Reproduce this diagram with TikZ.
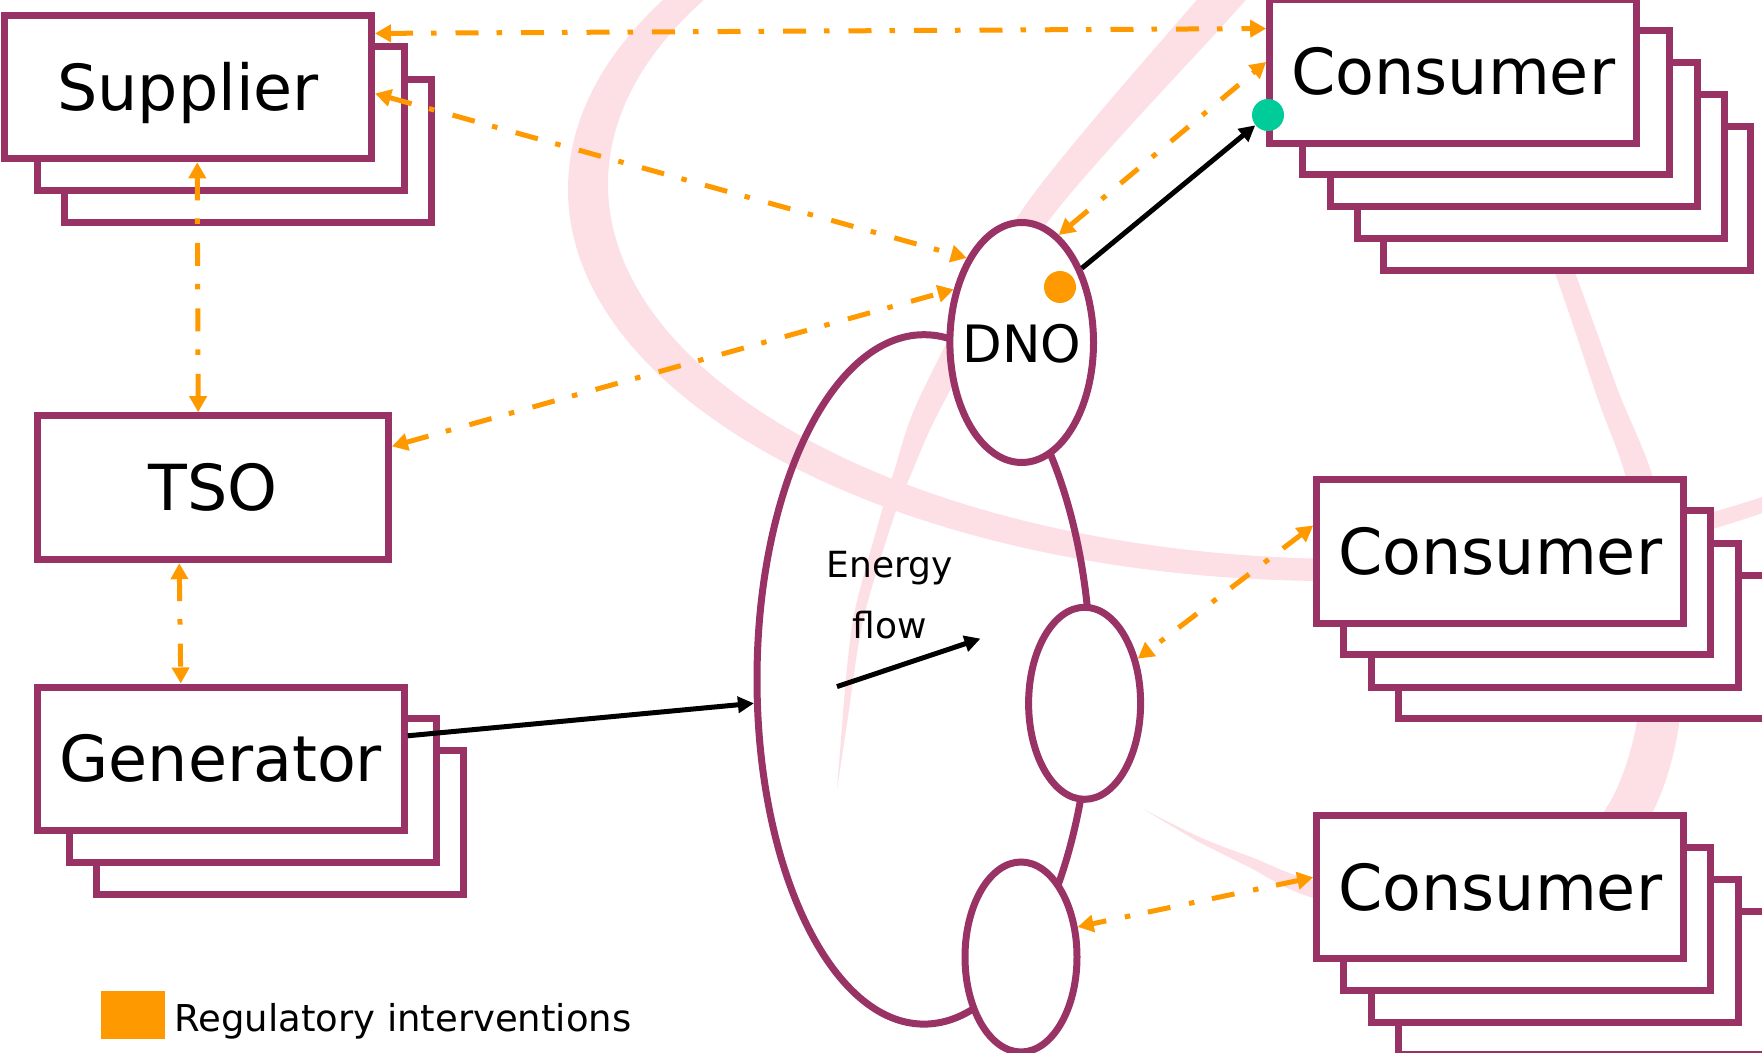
\documentclass[tikz,border=0pt]{standalone}
\usepackage{fontspec}
\setmainfont{DejaVu Sans}
\usetikzlibrary{arrows.meta,shapes.geometric}
\definecolor{purp}{RGB}{153,51,102}
\definecolor{orng}{RGB}{255,153,0}
\definecolor{grn}{RGB}{0,204,153}
\definecolor{bandpink}{RGB}{253,224,229}
\newcommand\boxfont{\fontsize{31.75pt}{38pt}\selectfont}
\newcommand\dnofont{\fontsize{25.75pt}{31pt}\selectfont}
\newcommand\flowfont{\fontsize{18pt}{22pt}\selectfont}
\newcommand\legfont{\fontsize{18.5pt}{22pt}\selectfont}
\begin{document}
\begin{tikzpicture}[x=0.5pt,y=-0.5pt,
  stackbox/.style={draw=purp, line width=3.5pt, fill=white, minimum width=183.5pt,
    minimum height=71.75pt, inner sep=0pt, font=\boxfont, text height=23.15pt, text depth=0pt},
  ell/.style={ellipse, draw=purp, line width=3.5pt, fill=white, inner sep=0pt},
  band/.style={fill=bandpink},
  reg/.style={draw=orng, line width=2.5pt, dash pattern=on 11.5pt off 9pt on 2.75pt off 9.5pt,
    {Triangle[length=8pt,width=8.5pt]}-{Triangle[length=8pt,width=8.5pt]}},
  flowarrow/.style={draw=black, line width=2.5pt, -{Triangle[length=8pt,width=8pt]}},
  dot/.style={circle, minimum size=16pt, inner sep=0pt},
  lbl/.style={inner sep=0pt}
]
\useasboundingbox (0,0) rectangle (1762,1053);
\clip (0,0) rectangle (1762,1053);
\fill[white] (0,0) rectangle (1762,1053);

% background pink strokes
\fill[band, even odd rule] (1332,189.2) ellipse [x radius=764, y radius=391.8]
  (1352,184.1) ellipse [x radius=744, y radius=374.9];
\fill[band] plot[smooth] coordinates {(837,790) (847.5,720.3) (862.9,621) (892.2,521.9) (909.9,477) (944.7,400.5) (1048.3,221.2) (1235,12.1) (1314.3,-77.5)}
 -- plot[smooth] coordinates {(1285.7,-102.5) (1207,-12.1) (1025.7,204.8) (923.3,389.5) (894.1,471) (879.8,518.1) (853.1,619) (842.5,719.7)} -- cycle;
\fill[band] plot[smooth] coordinates {(1461.8,53.7) (1511.7,163.5) (1556.1,276.3) (1597.7,398.8) (1627.4,483.3) (1645,601.3) (1637.3,719.7) (1611,800.1) (1551.5,870.3) (1449.8,902.5) (1315.2,880.8) (1252,857.4) (1201.1,837.8) (1143,809)}
 -- plot[smooth] coordinates {(1198.9,842.2) (1248,866.6) (1310.8,897.2) (1450.2,927.5) (1568.5,899.7) (1647,821.9) (1678.7,726.3) (1679,598.7) (1652.6,476.7) (1618.3,391.2) (1573.9,269.7) (1528.3,156.5) (1478.2,46.3)} -- cycle;

% network ring
\node[ellipse, draw=purp, line width=3.5pt, inner sep=0pt, minimum width=167pt, minimum height=344.7pt] (ring) at (924,679.4) {};

% stacks
\node[stackbox] (sup3) at (247.5,151.05) {};
\node[stackbox] (sup2) at (220.8,118.45) {};
\node[stackbox] (sup) at (188,87.05) {Supplier};

\node[stackbox, minimum width=175.5pt, minimum height=72pt] (tso) at (212.85,487.7) {TSO};

\node[stackbox] (gen3) at (279.7,822.55) {};
\node[stackbox] (gen2) at (252.7,790.45) {};
\node[stackbox] (gen) at (220.8,758.75) {Generator};

\node[stackbox] (c1e) at (1567.3,198.75) {};
\node[stackbox] (c1d) at (1540.6,166.75) {};
\node[stackbox] (c1c) at (1513.7,134.55) {};
\node[stackbox] (c1b) at (1486.2,102.55) {};
\node[stackbox] (con1) at (1453.2,71.75) {Consumer};

\node[stackbox] (c2d) at (1581.7,646.95) {};
\node[stackbox] (c2c) at (1554.7,615.25) {};
\node[stackbox] (c2b) at (1527.2,582.55) {};
\node[stackbox] (con2) at (1500.2,551.75) {Consumer};

\node[stackbox] (c3d) at (1581.7,982.75) {};
\node[stackbox] (c3c) at (1554.7,950.95) {};
\node[stackbox] (c3b) at (1527.2,919.05) {};
\node[stackbox] (con3) at (1500.2,887.15) {Consumer};

% network nodes
\node[ell, minimum width=71.8pt, minimum height=120pt] (dno) at (1021.7,342.5) {};
\node[ell, minimum width=56pt, minimum height=96pt] (mid) at (1084.6,703.3) {};
\node[ell, minimum width=56pt, minimum height=95pt] (bot) at (1021,957) {};

\node[dot, fill=grn] (gdot) at (1268,115) {};

% regulatory interventions
\draw[reg] (sup.16.69) -- (con1.167.71);
\draw[reg] (sup.-2.59) -- (dno.123.7);
\draw[reg] (tso.13.25) -- (dno.142.77);
\draw[reg] (sup.-83.18) -- (tso.101.86);
\draw[reg] (tso.246.81) -- (gen.118.17);
\draw[reg] (dno.71) -- (con1.177.93);
\draw[reg] (con2.172.9) -- (mid.40.62);
\draw[reg] (con3.177.04) -- (bot.28.36);

% energy flow
\draw[flowarrow] (dno.51.95) -- (gdot.219.26);
\draw[flowarrow] (gen.7.63) -- (ring.188.14);
\coordinate (ef1) at (837,686.6);
\coordinate (ef2) at (980.5,638.6);
\draw[flowarrow] (ef1) -- (ef2);

\node[dot, fill=orng] (odot) at (1060,287) {};

% labels
\node[lbl, font=\dnofont, text height=18.77pt, text depth=0pt] (dnolbl) at (1021.7,343.8) {DNO};
\node[lbl, font=\flowfont, anchor=base] (energy) at (889.7,577.6) {Energy};
\node[lbl, font=\flowfont, anchor=base] (flow) at (889.7,638.6) {flow};

% legend
\node[fill=orng, inner sep=0pt, minimum width=32pt, minimum height=23.85pt] (legbox) at (133,1014.85) {};
\node[lbl, font=\legfont, anchor=base west] (legtext) at (174,1031.7) {Regulatory interventions};
\end{tikzpicture}
\end{document}
